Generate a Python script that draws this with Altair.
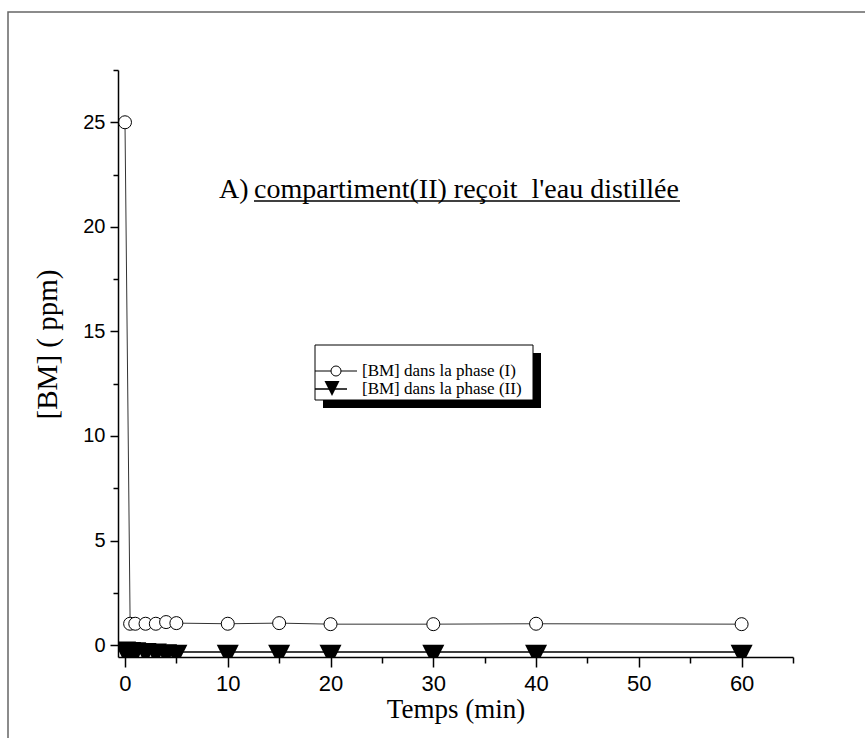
import altair as alt
import pandas as pd

# Sampling times (min) and methylene blue concentration (ppm) in each phase
t_phase1 = [0, 0.5, 1, 2, 3, 4, 5, 10, 15, 20, 30, 40, 60]
bm_phase1 = [25.0, 1.02, 1.02, 1.02, 1.02, 1.1, 1.05, 1.02, 1.05, 1.0, 1.0, 1.02, 1.0]
t_phase2 = [0, 0.5, 1, 2, 3, 4, 5, 10, 15, 20, 30, 40, 60]
bm_phase2 = [-0.18, -0.2, -0.22, -0.25, -0.28, -0.31, -0.33, -0.33, -0.33, -0.33, -0.33, -0.33, -0.33]

series_labels = ["[BM] dans la phase (I)", "[BM] dans la phase (II)"]
panel_title = "A)"
panel_subtitle = "compartiment(II) reçoit\u00a0\u00a0l'eau distillée"

x_ticks = list(range(0, 70, 5))
y_ticks = [i * 2.5 for i in range(12)]

SERIF = "Liberation Serif"
SANS = "Liberation Sans"
TRI_DOWN = "M-1,-0.667L1,-0.667L0,1.333Z"

df1 = pd.DataFrame({"t": t_phase1, "bm": bm_phase1})
df2 = pd.DataFrame({"t": t_phase2, "bm": bm_phase2})
one = pd.DataFrame({"k": [0]})

x_scale = alt.Scale(domain=[-0.68, 65], nice=False, zero=False)
y_scale = alt.Scale(domain=[-0.57, 27.5], nice=False, zero=False)

x_axis = alt.Axis(
    values=x_ticks,
    labelExpr="datum.value % 10 === 0 ? datum.label : ''",
    tickSize={"condition": {"test": "datum.value % 10 === 0", "value": 10}, "value": 6},
    labelPadding=6,
    labelFont=SANS, labelFontSize=22, labelColor="black",
    title="Temps (min)", titleFont=SERIF, titleFontSize=27, titleFontWeight="normal",
    titleColor="black", titleBaseline="alphabetic", titleY=60,
    domainColor="black", domainWidth=1.5, tickColor="black", tickWidth=1.5,
    grid=False, labelFlush=False, labelOverlap=False, zindex=2,
)
y_axis = alt.Axis(
    values=y_ticks,
    labelExpr="datum.value % 5 === 0 ? datum.label : ''",
    tickSize={"condition": {"test": "datum.value % 5 === 0", "value": 8}, "value": 5},
    labelPadding=5,
    labelFont=SANS, labelFontSize=20, labelColor="black",
    title="[BM] ( ppm)", titleFont=SERIF, titleFontSize=29, titleFontWeight="normal",
    titleColor="black", titleAngle=270, titleAlign="center", titleBaseline="middle",
    titleX=-71, titleY=274,
    domainColor="black", domainWidth=1.5, tickColor="black", tickWidth=1.5,
    grid=False, labelFlush=False, labelOverlap=False, zindex=2,
)

X = alt.X("t:Q", scale=x_scale, axis=x_axis)
Y = alt.Y("bm:Q", scale=y_scale, axis=y_axis)

line1 = alt.Chart(df1).mark_line(color="#333", strokeWidth=1, clip=True).encode(x=X, y=Y)
pts1 = alt.Chart(df1).mark_point(
    shape="circle", size=169, filled=True, fill="white", stroke="black",
    strokeWidth=1, opacity=1, clip=True,
).encode(x=X, y=Y)
line2 = alt.Chart(df2).mark_line(color="black", strokeWidth=1.6, clip=True).encode(x=X, y=Y)
pts2 = alt.Chart(df2).mark_point(
    shape=TRI_DOWN, size=484, filled=True, color="black", opacity=1, clip=True,
).encode(x=X, y=Y)

# Panel caption, the second part underlined
cap_a = alt.Chart(one).mark_text(
    text=panel_title, font=SERIF, fontSize=28, align="left", baseline="alphabetic", color="black"
).encode(x=alt.value(101), y=alt.value(128))
cap_b = alt.Chart(one).mark_text(
    text=panel_subtitle, font=SERIF, fontSize=28, align="left", baseline="alphabetic", color="black"
).encode(x=alt.value(136), y=alt.value(128))
underline = alt.Chart(one).mark_rule(color="black", strokeWidth=1.5).encode(
    x=alt.value(136), x2=alt.value(562), y=alt.value(131), y2=alt.value(131)
)

# Legend box with drop shadow
shadow = alt.Chart(one).mark_rect(color="black").encode(
    x=alt.value(205), x2=alt.value(423), y=alt.value(283), y2=alt.value(338)
)
box = alt.Chart(one).mark_rect(fill="white", stroke="black", strokeWidth=1).encode(
    x=alt.value(197), x2=alt.value(415), y=alt.value(275), y2=alt.value(330)
)
leg_line1 = alt.Chart(one).mark_rule(color="black", strokeWidth=1).encode(
    x=alt.value(197), x2=alt.value(239), y=alt.value(301), y2=alt.value(301)
)
leg_pt1 = alt.Chart(one).mark_point(
    shape="circle", size=100, filled=True, fill="white", stroke="black", strokeWidth=1, opacity=1
).encode(x=alt.value(218), y=alt.value(301))
leg_line2 = alt.Chart(one).mark_rule(color="black", strokeWidth=1.5).encode(
    x=alt.value(197), x2=alt.value(229), y=alt.value(319), y2=alt.value(319)
)
leg_pt2 = alt.Chart(one).mark_point(
    shape=TRI_DOWN, size=225, filled=True, color="black", opacity=1
).encode(x=alt.value(214), y=alt.value(316))
leg_txt1 = alt.Chart(one).mark_text(
    text=series_labels[0], font=SERIF, fontSize=17, align="left", baseline="middle", color="black"
).encode(x=alt.value(244), y=alt.value(301))
leg_txt2 = alt.Chart(one).mark_text(
    text=series_labels[1], font=SERIF, fontSize=17, align="left", baseline="middle", color="black"
).encode(x=alt.value(244), y=alt.value(319))

# Outer frame
frame = alt.Chart(one).mark_rect(fillOpacity=0, stroke="#666", strokeWidth=1.5).encode(
    x=alt.value(-110), x2=alt.value(800), y=alt.value(-58), y2=alt.value(720)
)

chart = alt.layer(
    frame, line1, pts1, line2, pts2, cap_a, cap_b, underline,
    shadow, box, leg_line1, leg_pt1, leg_line2, leg_pt2, leg_txt1, leg_txt2,
).properties(
    width=675, height=587,
    autosize=alt.AutoSizeParams(type="none"),
    padding={"left": 118, "top": 70, "right": 72, "bottom": 81},
    background="white",
).configure_view(stroke=None)

chart.save("out.html", embed_options={"renderer": "svg", "actions": False})
